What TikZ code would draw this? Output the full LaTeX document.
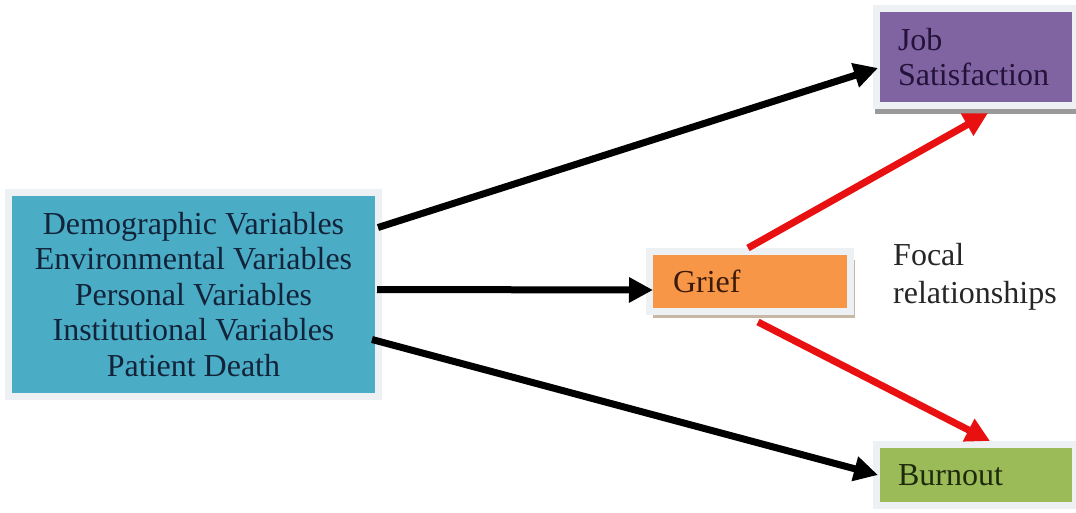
\documentclass[tikz,border=0pt]{standalone}
\usepackage{fontspec}
\setmainfont{Liberation Serif}
\usetikzlibrary{arrows.meta}
\definecolor{cteal}{HTML}{4BACC6}
\definecolor{cpurple}{HTML}{8064A2}
\definecolor{corange}{HTML}{F79646}
\definecolor{cgreen}{HTML}{9BBB59}
\definecolor{halocol}{HTML}{EDF1F3}
\definecolor{tealtext}{HTML}{12243A}
\definecolor{purpletext}{HTML}{23123A}
\definecolor{orangetext}{HTML}{3A1A08}
\definecolor{greentext}{HTML}{1E2A0C}
\definecolor{shadowtan}{HTML}{C9B7A6}
\definecolor{shadowgray}{HTML}{9A9A9A}
\definecolor{cred}{HTML}{E81010}
\tikzset{
  halo/.style={preaction={draw=halocol, line width=14pt}},
  box/.style={rectangle, inner sep=0pt, outer sep=0pt, font=\fontsize{32}{35.5}\selectfont},
  blackarrow/.style={draw=black, line width=7pt, -{Triangle[length=24pt,width=24pt]}},
  redarrow/.style={draw=cred, line width=7pt, -{Triangle[length=24pt,width=24pt]}},
}
\begin{document}
\begin{tikzpicture}[x=1pt,y=-1pt]
\useasboundingbox[fill=white] (0,0) rectangle (1076,512);

% shadows
\fill[shadowgray] (875,106) rectangle (1076,114);
\fill[shadowtan] (653,260) rectangle (855,318);

\node[box, halo, fill=cteal, text=tealtext, minimum width=363pt, minimum height=197pt, align=center]
  (L) at (193.5,294.5) {Demographic Variables\\Environmental Variables\\Personal Variables\\Institutional Variables\\Patient Death};

\node[box, halo, fill=cpurple, text=purpletext,
  minimum width=192pt, minimum height=90pt, text width=156pt, align=left, inner xsep=18pt]
  (J) at (976,57) {Job\\Satisfaction};

\node[box, halo, fill=corange, text=orangetext,
  minimum width=194pt, minimum height=53pt, text width=154pt, align=left, inner xsep=20pt]
  (G) at (750,281.5) {Grief};

\node[box, halo, fill=cgreen, text=greentext,
  minimum width=192pt, minimum height=54pt, text width=156pt, align=left, inner xsep=18pt]
  (B) at (976,475) {Burnout};

\node[anchor=west, inner sep=0pt, align=left, font=\fontsize{32}{38}\selectfont, text=black!85]
  (F) at (893,277) {Focal\\relationships};

\draw[blackarrow] ([shift={(3pt,67pt)}]L.east) -- ([shift={(-2pt,-11pt)}]J.west);
\draw[blackarrow] ([shift={(2pt,5pt)}]L.east) -- ([shift={(0pt,-8.5pt)}]G.west);
\draw[blackarrow] ([shift={(-3pt,-45pt)}]L.east) -- ([shift={(-2pt,0pt)}]B.west);
\draw[redarrow] ([shift={(-2pt,7pt)}]G.north) -- ([shift={(12pt,-11pt)}]J.south);
\draw[redarrow] ([shift={(8pt,-14pt)}]G.south) -- ([shift={(14pt,7pt)}]B.north);
\end{tikzpicture}
\end{document}
